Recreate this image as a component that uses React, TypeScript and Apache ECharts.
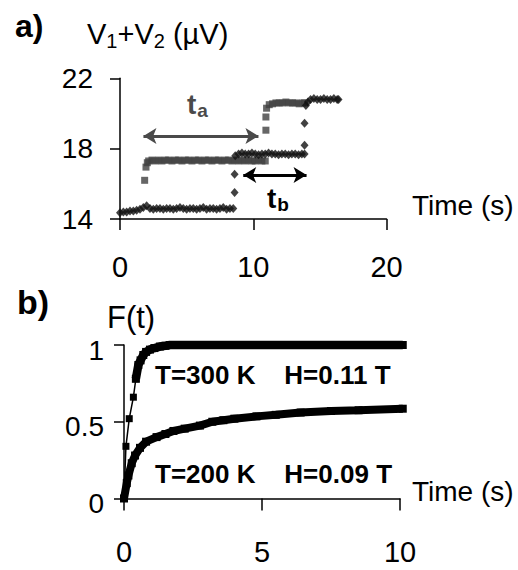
import React, { useEffect, useRef } from "react";
import * as echarts from "echarts";

const FONT = "'Liberation Sans', Arial, Helvetica, sans-serif";

// ---------- Panel a: V1+V2 (µV) versus time (s) ----------
const aXTicks = [0, 10, 20];
const aYTicks = [14, 18, 22];

// black diamonds
const diamondSeries: [number, number][] = [
  [0.0, 14.35], [0.25, 14.4], [0.5, 14.4], [0.75, 14.45], [1.0, 14.45], [1.25, 14.5],
  [1.5, 14.55], [1.75, 14.65], [2.0, 14.75], [2.25, 14.6], [2.5, 14.55], [2.75, 14.6],
  [3.0, 14.6], [3.25, 14.55], [3.5, 14.6], [3.75, 14.6], [4.0, 14.55], [4.25, 14.6],
  [4.5, 14.65], [4.75, 14.6], [5.0, 14.55], [5.25, 14.6], [5.5, 14.6], [5.75, 14.55],
  [6.0, 14.6], [6.25, 14.65], [6.5, 14.55], [6.75, 14.6], [7.0, 14.6], [7.25, 14.55],
  [7.5, 14.6], [7.75, 14.65], [8.0, 14.55], [8.25, 14.6], [8.5, 14.6],
  [8.6, 15.5], [8.6, 16.55],
  [8.65, 17.6], [8.9, 17.7], [9.15, 17.75], [9.4, 17.7], [9.65, 17.7], [9.9, 17.75],
  [10.15, 17.7], [10.4, 17.65], [10.65, 17.7], [10.9, 17.7], [11.15, 17.75], [11.4, 17.7],
  [11.65, 17.7], [11.9, 17.65], [12.15, 17.7], [12.4, 17.7], [12.65, 17.65], [12.9, 17.7],
  [13.15, 17.7], [13.4, 17.65], [13.65, 17.7], [13.85, 17.7],
  [13.85, 18.2], [13.85, 19.45],
  [13.95, 20.45], [14.1, 20.65], [14.3, 20.8], [14.55, 20.85], [14.8, 20.8], [15.05, 20.8],
  [15.3, 20.85], [15.55, 20.8], [15.8, 20.8], [16.05, 20.85], [16.3, 20.8], [16.4, 20.8],
];

// grey squares
const squareSeries: [number, number][] = [
  [1.85, 16.2], [1.95, 16.95], [2.05, 17.2], [2.15, 17.3], [2.4, 17.35], [2.65, 17.3],
  [2.9, 17.35], [3.15, 17.3], [3.4, 17.35], [3.65, 17.35], [3.9, 17.3], [4.15, 17.35],
  [4.4, 17.35], [4.65, 17.3], [4.9, 17.35], [5.15, 17.35], [5.4, 17.3], [5.65, 17.35],
  [5.9, 17.35], [6.15, 17.3], [6.4, 17.35], [6.65, 17.35], [6.9, 17.3], [7.15, 17.35],
  [7.4, 17.35], [7.65, 17.3], [7.9, 17.35], [8.15, 17.35], [8.4, 17.3], [8.65, 17.35],
  [8.9, 17.3], [9.15, 17.35], [9.4, 17.3], [9.65, 17.35], [9.9, 17.3], [10.15, 17.3],
  [10.4, 17.35], [10.65, 17.3], [10.9, 17.3],
  [10.95, 19.05], [10.95, 19.8],
  [11.0, 20.3], [11.2, 20.5], [11.45, 20.55], [11.7, 20.6], [11.95, 20.6], [12.2, 20.6],
  [12.45, 20.65], [12.7, 20.6], [12.95, 20.6], [13.2, 20.6], [13.45, 20.55], [13.7, 20.6],
  [13.85, 20.6],
];

// arrow end points (data units)
const arrowTa: [number, number][] = [[1.76, 18.72], [10.39, 18.72]];
const arrowTb: [number, number][] = [[9.25, 16.5], [14.0, 16.5]];

// ---------- Panel b: F(t) versus time (s) ----------
const bXTicks = [0, 5, 10];

const f300Times = [0, 0.07, 0.19, 0.34, 0.43, 0.52, 0.6, 0.7, 0.8, 0.94, 1.1, 1.3, 1.5, 1.67, 2, 3, 4, 5, 6, 7, 8, 9, 10.1];
const f300Values = [0, 0.34, 0.52, 0.66, 0.78, 0.87, 0.9, 0.935, 0.955, 0.97, 0.98, 0.99, 0.995, 1.0, 1.0, 1.0, 1.0, 1.0, 1.0, 1.0, 1.0, 1.0, 1.0];
const f300SparseEnd = 5; // first points drawn as separate markers on a thin line

const f200Times = [0, 0.1, 0.16, 0.28, 0.4, 0.58, 0.8, 1.18, 1.5, 1.79, 2.2, 2.75, 3.2, 3.6, 4.0, 4.8, 5.5, 6.4, 7.5, 8.5, 10.1];
const f200Values = [0, 0.1, 0.15, 0.23, 0.28, 0.33, 0.37, 0.4, 0.42, 0.44, 0.455, 0.475, 0.5, 0.51, 0.52, 0.535, 0.545, 0.56, 0.57, 0.575, 0.585];

const label300 = "T=300 K\u00a0\u00a0\u00a0\u00a0H=0.11 T";
const label200 = "T=200 K\u00a0\u00a0\u00a0\u00a0H=0.09 T";

const pairs = (xs: number[], ys: number[]) => xs.map((x, i) => [x, ys[i]]);

export default function App() {
  const ref = useRef<HTMLDivElement>(null);

  useEffect(() => {
    if (!ref.current) return;
    const chart = echarts.init(ref.current, undefined, { renderer: "svg" });
    const axisLine = { show: true, lineStyle: { color: "#000", width: 1.5 } };
    const f300 = pairs(f300Times, f300Values);
    const f200 = pairs(f200Times, f200Values);

    const option: any = {
      animation: false,
      backgroundColor: "#fff",
      grid: [
        { left: 120, top: 78.3, width: 266.5, height: 140.7 },
        { left: 124, top: 345, width: 276, height: 153.5 },
      ],
      xAxis: [
        {
          type: "value", gridIndex: 0, min: 0, max: 20, interval: 10,
          axisLine, splitLine: { show: false },
          axisTick: { show: true, length: 11, lineStyle: { color: "#000", width: 1.5 } },
          axisLabel: { fontSize: 29, color: "#000", fontFamily: FONT, margin: 33, customValues: aXTicks },
        },
        {
          type: "value", gridIndex: 1, min: 0, max: 10, interval: 5,
          axisLine, splitLine: { show: false },
          axisTick: { show: true, length: 12, lineStyle: { color: "#000", width: 1.5 } },
          axisLabel: { fontSize: 29, color: "#000", fontFamily: FONT, margin: 39, customValues: bXTicks },
        },
      ],
      yAxis: [
        {
          type: "value", gridIndex: 0, min: 14, max: 22,
          axisLine, splitLine: { show: false },
          axisTick: { show: true, length: 10, customValues: aYTicks, lineStyle: { color: "#000", width: 1.5 } },
          axisLabel: { fontSize: 28, color: "#000", fontFamily: FONT, margin: 27, customValues: aYTicks },
        },
        {
          type: "value", gridIndex: 1, min: 0, max: 1, interval: 0.5,
          axisLine, splitLine: { show: false },
          axisTick: { show: true, length: 10, lineStyle: { color: "#000", width: 1.5 } },
          axisLabel: { fontSize: 28, color: "#000", fontFamily: FONT, margin: 20, lineHeight: 38, verticalAlign: "top", padding: [-14, 0, 0, 0] },
        },
      ],
      series: [
        {
          type: "scatter", xAxisIndex: 0, yAxisIndex: 0, data: squareSeries,
          symbol: "rect", symbolSize: 7, itemStyle: { color: "#404040" }, clip: false,
          markLine: {
            silent: true, symbol: ["arrow", "arrow"], symbolSize: [12, 13],
            lineStyle: { color: "#4a4a4a", width: 3, type: "solid" }, label: { show: false },
            data: [[{ coord: arrowTa[0] }, { coord: arrowTa[1] }]],
          },
        },
        {
          type: "scatter", xAxisIndex: 0, yAxisIndex: 0, data: diamondSeries,
          symbol: "diamond", symbolSize: [8, 9], itemStyle: { color: "#111" }, clip: false,
          markLine: {
            silent: true, symbol: ["arrow", "arrow"], symbolSize: [12, 13],
            lineStyle: { color: "#000", width: 3, type: "solid" }, label: { show: false },
            data: [[{ coord: arrowTb[0] }, { coord: arrowTb[1] }]],
          },
        },
        {
          type: "line", xAxisIndex: 1, yAxisIndex: 1, data: f200,
          symbol: "rect", symbolSize: 8, showSymbol: true, clip: false,
          lineStyle: { color: "#000", width: 8 }, itemStyle: { color: "#000" },
        },
        {
          type: "line", xAxisIndex: 1, yAxisIndex: 1, data: f300.slice(0, f300SparseEnd),
          symbol: "rect", symbolSize: 7, showSymbol: true, clip: false,
          lineStyle: { color: "#000", width: 1.5 }, itemStyle: { color: "#000" },
        },
        {
          type: "line", xAxisIndex: 1, yAxisIndex: 1, data: f300.slice(f300SparseEnd - 1),
          symbol: "rect", symbolSize: 8, showSymbol: true, clip: false,
          lineStyle: { color: "#000", width: 8.5 }, itemStyle: { color: "#000" },
        },
      ],
      graphic: [
        { type: "text", left: 15, top: 10, style: { text: "a)", font: `bold 32px ${FONT}`, fill: "#000" } },
        {
          type: "text", left: 87, top: 19,
          style: {
            text: "{m|V}{s|1}{m|+V}{s|2}{m|\u00a0(µV)}", fill: "#000",
            rich: {
              m: { fontSize: 29, fontFamily: FONT, lineHeight: 29, verticalAlign: "top", fill: "#000" },
              s: { fontSize: 20, fontFamily: FONT, lineHeight: 20, padding: [12, 0, 0, 0], verticalAlign: "top", fill: "#000" },
            },
          },
        },
        { type: "text", left: 412, top: 191, style: { text: "Time (s)", font: `28px ${FONT}`, fill: "#000" } },
        {
          type: "text", left: 187, top: 90,
          style: {
            text: "{m|t}{s|a}", fill: "#4a4a4a",
            rich: {
              m: { fontSize: 28, fontWeight: "bold", fontFamily: FONT, lineHeight: 28, verticalAlign: "top", fill: "#4a4a4a" },
              s: { fontSize: 19, fontWeight: "bold", fontFamily: FONT, lineHeight: 19, padding: [11, 0, 0, 1], verticalAlign: "top", fill: "#4a4a4a" },
            },
          },
        },
        {
          type: "text", left: 267, top: 184,
          style: {
            text: "{m|t}{s|b}", fill: "#000",
            rich: {
              m: { fontSize: 28, fontWeight: "bold", fontFamily: FONT, lineHeight: 28, verticalAlign: "top", fill: "#000" },
              s: { fontSize: 19, fontWeight: "bold", fontFamily: FONT, lineHeight: 19, padding: [11, 0, 0, 1], verticalAlign: "top", fill: "#000" },
            },
          },
        },
        { type: "text", left: 17, top: 285, style: { text: "b)", font: `bold 34px ${FONT}`, fill: "#000" } },
        { type: "text", left: 107, top: 302, style: { text: "F(t)", font: `31px ${FONT}`, fill: "#000" } },
        { type: "text", left: 412, top: 477, style: { text: "Time (s)", font: `28px ${FONT}`, fill: "#000" } },
        { type: "text", left: 155, top: 362, style: { text: label300, font: `bold 26px ${FONT}`, fill: "#000" } },
        { type: "text", left: 155, top: 461, style: { text: label200, font: `bold 26px ${FONT}`, fill: "#000" } },
      ],
    };
    chart.setOption(option);
    return () => chart.dispose();
  }, []);

  return (
    <div
      ref={ref}
      style={{ position: "fixed", left: 0, top: 0, width: 518, height: 570, background: "#fff" }}
    />
  );
}
